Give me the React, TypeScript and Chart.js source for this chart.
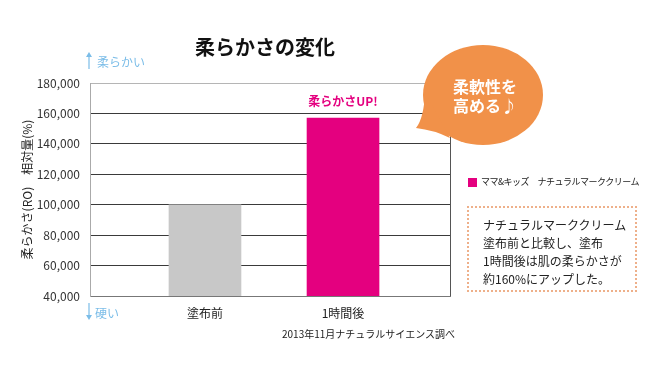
import React, { useEffect, useRef } from "react";
import { Chart, registerables } from "chart.js";

Chart.register(...registerables);

const categories = ["塗布前", "1時間後"];
const seriesLabel = "ママ&キッズ　ナチュラルマーククリーム";
const values = [100000, 157000];
const barColors = ["#c8c8c8", "#e4007f"];
const yMin = 40000;
const yMax = 180000;
const yStep = 20000;
const chartTitle = "柔らかさの変化";
const yAxisTitle = "柔らかさ(RO)　相対量(%)";
const upLabel = "柔らかさUP!";
const softLabel = "柔らかい";
const hardLabel = "硬い";
const bubbleLines = ["柔軟性を", "高める♪"];
const noteLines = [
  "ナチュラルマーククリーム",
  "塗布前と比較し、塗布",
  "1時間後は肌の柔らかさが",
  "約160%にアップした。",
];
const sourceText = "2013年11月ナチュラルサイエンス調べ";

const FONT = "'Noto Sans CJK JP', 'Noto Sans', sans-serif";

const framePlugin = {
  id: "frame",
  beforeDatasetsDraw(chart: any) {
    const { ctx, chartArea } = chart;
    ctx.save();
    ctx.strokeStyle = "#555";
    ctx.lineWidth = 1;
    ctx.beginPath();
    ctx.moveTo(Math.round(chartArea.right) + 0.5, chartArea.top);
    ctx.lineTo(Math.round(chartArea.right) + 0.5, chartArea.bottom);
    ctx.stroke();
    ctx.restore();
  },
  afterDatasetsDraw(chart: any) {
    const { ctx } = chart;
    const xs = chart.scales.x;
    const ys = chart.scales.y;
    const px = xs.getPixelForValue(2);
    const py = ys.getPixelForValue(values[1]);
    ctx.save();
    ctx.fillStyle = "#e4007f";
    ctx.font = `bold 12px ${FONT}`;
    ctx.textAlign = "center";
    ctx.textBaseline = "middle";
    ctx.fillText(upLabel, px, py - 17);
    ctx.restore();
  },
};

export default function App() {
  const ref = useRef<HTMLCanvasElement | null>(null);

  useEffect(() => {
    if (!ref.current) return;
    const chart = new Chart(ref.current, {
      type: "bar",
      data: {
        datasets: [
          {
            label: seriesLabel,
            data: values.map((v, i) => ({ x: i + 1, y: v })),
            backgroundColor: barColors,
            borderWidth: 0,
            barThickness: 72,
          },
        ],
      },
      options: {
        responsive: false,
        animation: false,
        layout: { padding: { left: 0, right: 210, top: 83, bottom: 0 } },
        plugins: {
          legend: { display: false },
          title: { display: false },
          tooltip: { enabled: false },
        },
        scales: {
          x: {
            type: "linear",
            offset: false,
            bounds: "ticks",
            min: 0.167,
            max: 2.775,
            afterBuildTicks: (s: any) => {
              s.ticks = categories.map((_, i) => ({ value: i + 1 }));
            },
            afterFit: (s: any) => {
              s.height = 84;
            },
            ticks: {
              autoSkip: false,
              maxRotation: 0,
              padding: 10,
              color: "#222",
              font: { family: FONT, size: 12 },
              callback: (v: any) => categories[Number(v) - 1] ?? "",
            },
            grid: { display: false, drawTicks: false, offset: false },
            border: { display: true, color: "#777" },
          },
          y: {
            min: yMin,
            max: yMax,
            afterFit: (s: any) => {
              s.width = 90;
            },
            ticks: {
              stepSize: yStep,
              padding: 10,
              color: "#333",
              font: { family: FONT, size: 12 },
              callback: (v: any) => Number(v).toLocaleString("en-US"),
            },
            grid: {
              drawTicks: false,
              color: (c: any) =>
                c.tick && c.tick.value === yMax ? "#b5b5b5" : "#3a3a3a",
            },
            border: { display: true, color: "#aaa" },
            title: {
              display: true,
              text: yAxisTitle,
              color: "#222",
              font: { family: FONT, size: 12 },
              padding: { top: 20, bottom: 0 },
            },
          },
        },
      },
      plugins: [framePlugin],
    } as any);
    return () => chart.destroy();
  }, []);

  return (
    <div
      style={{
        position: "fixed",
        left: 0,
        top: 0,
        width: 660,
        height: 380,
        background: "#fff",
        fontFamily: FONT,
        overflow: "hidden",
      }}
    >
      <canvas
        ref={ref}
        width={660}
        height={380}
        style={{ position: "absolute", left: 0, top: 0, display: "block" }}
      />
      <svg
        width={660}
        height={380}
        style={{ position: "absolute", left: 0, top: 0, pointerEvents: "none" }}
      >
        <ellipse cx={483} cy={95} rx={60} ry={50} fill="#f19149" />
        <path d="M 425 92 Q 424 118 416 128 Q 434 130 450 138 Z" fill="#f19149" />
        <g stroke="#7bbde8" strokeWidth={1.2} fill="#7bbde8">
          <line x1={89} y1={55} x2={89} y2={69} />
          <path d="M 86 57 L 89 52 L 92 57 Z" stroke="none" />
          <line x1={89} y1={303} x2={89} y2={317} />
          <path d="M 86 315 L 89 320 L 92 315 Z" stroke="none" />
        </g>
      </svg>
      <div
        style={{
          position: "absolute",
          left: 0,
          width: 530,
          top: 33,
          textAlign: "center",
          fontSize: 20,
          fontWeight: "bold",
          color: "#111",
          lineHeight: "28px",
        }}
      >
        {chartTitle}
      </div>
      <div style={{ position: "absolute", left: 97, top: 54, fontSize: 12, color: "#7bbde8", lineHeight: "16px" }}>
        {softLabel}
      </div>
      <div style={{ position: "absolute", left: 95, top: 305, fontSize: 12, color: "#7bbde8", lineHeight: "16px" }}>
        {hardLabel}
      </div>
      <div
        style={{
          position: "absolute",
          left: 425,
          width: 120,
          top: 77,
          textAlign: "center",
          fontSize: 16,
          fontWeight: "bold",
          color: "#fff",
          lineHeight: "19px",
        }}
      >
        {bubbleLines.map((l) => (
          <div key={l}>{l}</div>
        ))}
      </div>
      <div style={{ position: "absolute", left: 468, top: 178, width: 9, height: 9, background: barColors[1] }} />
      <div
        style={{
          position: "absolute",
          left: 481,
          top: 175,
          fontSize: 9,
          letterSpacing: "-0.5px",
          color: "#222",
          lineHeight: "14px",
          whiteSpace: "nowrap",
        }}
      >
        {seriesLabel}
      </div>
      <div
        style={{
          position: "absolute",
          left: 467,
          top: 206,
          width: 170,
          height: 86,
          border: "2px dotted #eeb08a",
          boxSizing: "border-box",
        }}
      />
      <div
        style={{
          position: "absolute",
          left: 483,
          top: 216,
          fontSize: 12,
          color: "#222",
          lineHeight: "18px",
          whiteSpace: "nowrap",
        }}
      >
        {noteLines.map((l) => (
          <div key={l}>{l}</div>
        ))}
      </div>
      <div
        style={{
          position: "absolute",
          left: 282,
          top: 327,
          fontSize: 10,
          color: "#222",
          lineHeight: "14px",
          whiteSpace: "nowrap",
        }}
      >
        {sourceText}
      </div>
    </div>
  );
}
